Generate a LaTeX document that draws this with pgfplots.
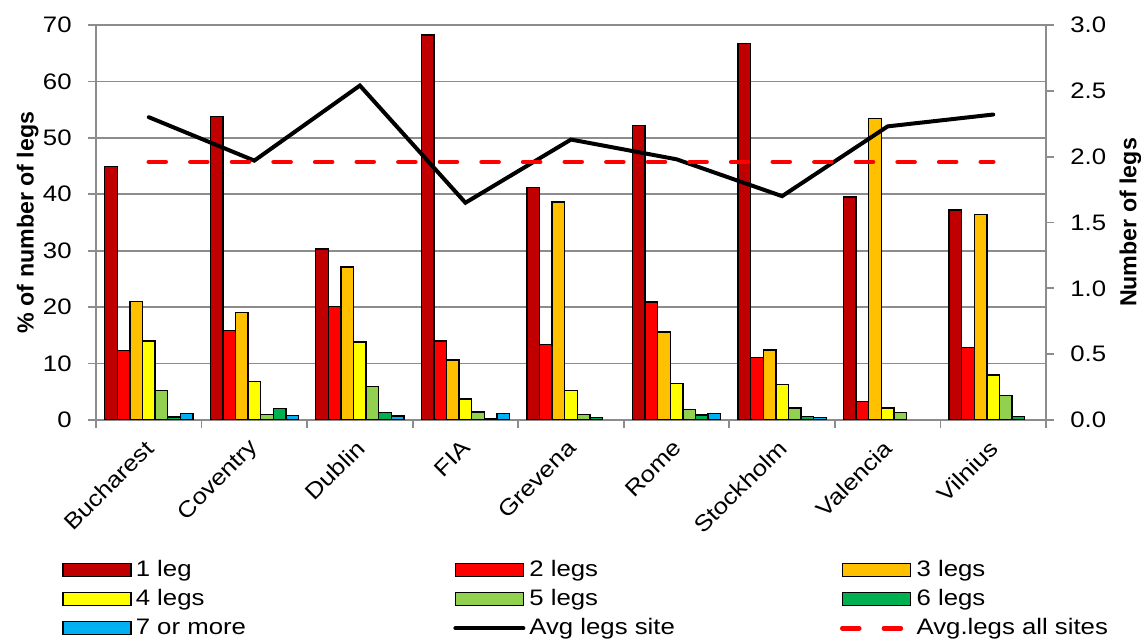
\documentclass[border=0pt]{standalone}
\usepackage{fontspec}
\setmainfont[FakeStretch=1.15]{Liberation Sans}
\newfontfamily\lblfont{Liberation Sans}
\newfontfamily\diagfont[FakeStretch=1.15]{Liberation Sans}
\usepackage{pgfplots}
\usepackage{pgfplotstable}
\pgfplotsset{compat=1.18}

\definecolor{leg1}{HTML}{C00000}
\definecolor{leg2}{HTML}{FF0000}
\definecolor{leg3}{HTML}{FFC000}
\definecolor{leg4}{HTML}{FFFF00}
\definecolor{leg5}{HTML}{92D050}
\definecolor{leg6}{HTML}{00B050}
\definecolor{leg7}{HTML}{00B0F0}
\definecolor{gridgray}{HTML}{8C8C8C}

% share of legs per site (%), average legs per site, overall average
\pgfplotstableread{
x l1   l2   l3   l4   l5  l6  l7  avg  all
0 44.9 12.3 21.0 14.0 5.2 0.5 1.1 2.30 1.96
1 53.8 15.9 19.0 6.8  1.0 2.0 0.8 1.97 1.96
2 30.3 20.1 27.1 13.8 5.9 1.3 0.7 2.54 1.96
3 68.2 14.0 10.6 3.7  1.4 0.3 1.2 1.65 1.96
4 41.2 13.4 38.6 5.2  1.0 0.4 nan 2.13 1.96
5 52.2 20.9 15.6 6.5  1.9 0.9 1.2 1.98 1.96
6 66.7 11.1 12.4 6.3  2.1 0.6 0.4 1.70 1.96
7 39.5 3.3  53.4 2.1  1.3 nan nan 2.23 1.96
8 37.2 12.9 36.4 8.0  4.3 0.6 nan 2.32 1.96
}\legdata

\pgfplotsset{
  base/.style={
    width=475pt, height=197.5pt, scale only axis,
    at={(0pt,0pt)}, anchor=south west,
    xmin=-0.5, xmax=8.5, ymin=0,
    font=\fontsize{11.2}{13}\selectfont,
    /pgf/number format/assume math mode=true,
    axis line style={gridgray, line width=0.9pt},
    tick style={gridgray, line width=0.9pt},
    tick align=outside,
    major tick length=4pt,
  },
  barleg/.style={legend image code/.code={\draw[##1, line width=0.7pt] (0pt,-3.25pt) rectangle (34pt,3.25pt);}},
  lineleg/.style={legend image code/.code={\draw[##1] (0pt,0pt) -- (34pt,0pt);}},
  bars/.style={draw=black, line width=0.7pt},
}

\begin{document}
\begin{tikzpicture}
\useasboundingbox (-48pt,-110.5pt) rectangle (522.5pt,210pt);
\begin{axis}[base,
    ymax=70, ytick={0,10,...,70},
    ymajorgrids, grid style={gridgray, line width=0.9pt},
    xtick={0,...,8},
    xticklabels={Bucharest,Coventry,Dublin,FIA,Grevena,Rome,Stockholm,Valencia,Vilnius},
    minor xtick={-0.5,0.5,...,8.5},
    major x tick style={draw=none},
    minor tick length=4pt,
    xtick pos=left, ytick pos=left,
    xticklabel style={font=\diagfont\fontsize{11.2}{13}\selectfont, xshift=0.5pt, yshift=-8pt, rotate=45, anchor=east, inner sep=0pt},
    yticklabel style={inner sep=0pt, anchor=east, xshift=-8pt},
    ylabel={\% of number of legs},
    ylabel style={at={(axis description cs:-0.072,0.5)}, anchor=center, font=\lblfont\bfseries\fontsize{11.6}{14}\selectfont},
    ybar, bar width=0.1194,
]
\addplot[bars, fill=leg1, bar shift=-0.3582] table[x=x, y=l1] {\legdata};
\addplot[bars, fill=leg2, bar shift=-0.2388] table[x=x, y=l2] {\legdata};
\addplot[bars, fill=leg3, bar shift=-0.1194] table[x=x, y=l3] {\legdata};
\addplot[bars, fill=leg4, bar shift=0] table[x=x, y=l4] {\legdata};
\addplot[bars, fill=leg5, bar shift=0.1194] table[x=x, y=l5] {\legdata};
\addplot[bars, fill=leg6, bar shift=0.2388] table[x=x, y=l6] {\legdata};
\addplot[bars, fill=leg7, bar shift=0.3582] table[x=x, y=l7] {\legdata};
\end{axis}

\begin{axis}[base,
    ymax=3, ytick={0,0.5,...,3},
    axis y line*=right, axis x line=none,
    yticklabel style={inner sep=0pt, anchor=west, xshift=8pt,
      /pgf/number format/.cd, fixed, fixed zerofill, precision=1},
    ylabel={Number of legs},
    ylabel style={at={(axis description cs:1.089,0.5)}, anchor=center, rotate=0, font=\lblfont\bfseries\fontsize{11.6}{14}\selectfont},
    legend columns=3,
    legend cell align=left,
    legend style={at={(axis description cs:-0.0358,-0.350)}, anchor=north west,
      draw=none, fill=none, inner sep=0pt,
      /tikz/column sep=0pt, /tikz/row sep=2.9pt,
      nodes={inner xsep=2pt, inner ysep=0.5pt, text height=8.2pt, text depth=2.4pt}},
]
\addlegendimage{barleg, fill=leg1, draw=black}
\addlegendentry{\makebox[156.8pt][l]{1 leg}}
\addlegendimage{barleg, fill=leg2, draw=black}
\addlegendentry{\makebox[153.3pt][l]{2 legs}}
\addlegendimage{barleg, fill=leg3, draw=black}
\addlegendentry{3 legs}
\addlegendimage{barleg, fill=leg4, draw=black}
\addlegendentry{4 legs}
\addlegendimage{barleg, fill=leg5, draw=black}
\addlegendentry{5 legs}
\addlegendimage{barleg, fill=leg6, draw=black}
\addlegendentry{6 legs}
\addlegendimage{barleg, fill=leg7, draw=black}
\addlegendentry{7 or more}
\addplot[black, line width=2pt, line cap=round, lineleg] table[x=x, y=avg] {\legdata};
\addlegendentry{Avg legs site}
\addplot[red, line width=2.3pt, line cap=round, dash pattern=on 8.5pt off 12.3pt, lineleg] table[x=x, y=all] {\legdata};
\addlegendentry{Avg.legs all sites}
\end{axis}
\end{tikzpicture}
\end{document}
